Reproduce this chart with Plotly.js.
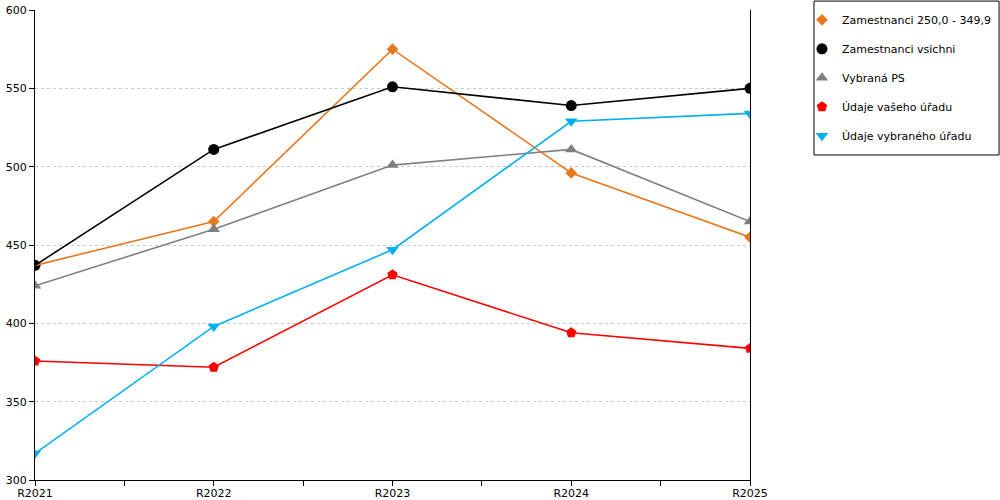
<!DOCTYPE html>
<html>
<head>
<meta charset="utf-8">
<script src="https://cdn.plot.ly/plotly-3.0.1.min.js"></script>
<style>
  html, body { margin: 0; padding: 0; background: #ffffff; }
  #chart { width: 1000px; height: 500px; }
</style>
</head>
<body>
<div id="chart"></div>
<script>
// categories
var years = ['R2021', 'R2022', 'R2023', 'R2024', 'R2025'];

// series values
var zam250 = [437, 465, 575, 496, 455];
var zamVsichni = [437, 511, 551, 539, 550];
var vybranaPS = [424, 460, 501, 511, 465];
var vasUrad = [376, 372, 431, 394, 384];
var vybranyUrad = [317, 398, 447, 529, 534];

var names = ['Zamestnanci 250,0 - 349,9', 'Zamestnanci vsichni', 'Vybraná PS',
             'Údaje vašeho úřadu', 'Údaje vybraného úřadu'];
var values = [zam250, zamVsichni, vybranaPS, vasUrad, vybranyUrad];
var colors = ['#e8781e', '#000000', '#808080', '#ff0000', '#00b0f0'];
var symbols = ['diamond', 'circle', 'triangle-up', 'pentagon', 'triangle-down'];
var sizes = [9, 11, 11, 11, 11];

var FONT = 'DejaVu Sans, Verdana, sans-serif';

var data = [];
// lines first (on the overlay axis that carries the in-between ticks), no legend
values.forEach(function (v, i) {
    data.push({
        x: years,
        y: v,
        xaxis: 'x2',
        type: 'scatter',
        mode: 'lines',
        line: { color: colors[i], width: 1.6 },
        showlegend: false,
        hoverinfo: 'skip'
    });
});
// markers on top, these carry the legend
values.forEach(function (v, i) {
    data.push({
        x: years,
        y: v,
        name: names[i],
        legendgroup: 'g' + i,
        type: 'scatter',
        mode: 'markers',
        marker: { color: colors[i], symbol: symbols[i], size: sizes[i] }
    });
});

var layout = {
    width: 1000,
    height: 500,
    paper_bgcolor: '#ffffff',
    plot_bgcolor: '#ffffff',
    font: { family: FONT, size: 11, color: '#000000' },
    margin: { l: 35, r: 250, t: 10, b: 20, autoexpand: false },
    xaxis: {
        type: 'category',
        categoryarray: years,
        range: [0, 4],
        showgrid: false,
        zeroline: false,
        showline: true,
        linecolor: '#000000',
        linewidth: 1,
        ticks: 'outside',
        ticklen: 5,
        ticklabelstandoff: -2,
        tickcolor: '#000000',
        tickfont: { family: FONT, size: 11 }
    },
    xaxis2: {
        type: 'category',
        categoryarray: years,
        range: [0, 4],
        overlaying: 'x',
        anchor: 'y',
        side: 'bottom',
        tickson: 'boundaries',
        ticks: 'outside',
        ticklen: 5,
        tickcolor: '#000000',
        showticklabels: false,
        showgrid: false,
        showline: false,
        zeroline: false
    },
    yaxis: {
        range: [300, 600],
        dtick: 50,
        showgrid: true,
        gridcolor: '#c8c8c8',
        griddash: 'dot',
        zeroline: false,
        showline: true,
        mirror: true,
        linecolor: '#000000',
        linewidth: 1,
        ticks: 'outside',
        ticklen: 5,
        tickcolor: '#000000',
        tickfont: { family: FONT, size: 11 }
    },
    legend: {
        x: 1.0727,
        xanchor: 'left',
        y: 1.01,
        yanchor: 'top',
        bgcolor: 'rgba(0,0,0,0)',
        borderwidth: 0,
        tracegroupgap: 10,
        font: { family: FONT, size: 11, color: '#000000' }
    },
    shapes: [{
        type: 'rect',
        xref: 'paper',
        yref: 'paper',
        x0: 1.0895,
        x1: 1.3483,
        y0: 0.6915,
        y1: 1.019,
        line: { color: '#000000', width: 1 },
        fillcolor: 'rgba(0,0,0,0)'
    }]
};

var config = { responsive: false, displayModeBar: false, staticPlot: true };

Plotly.newPlot('chart', data, layout, config);
</script>
</body>
</html>
